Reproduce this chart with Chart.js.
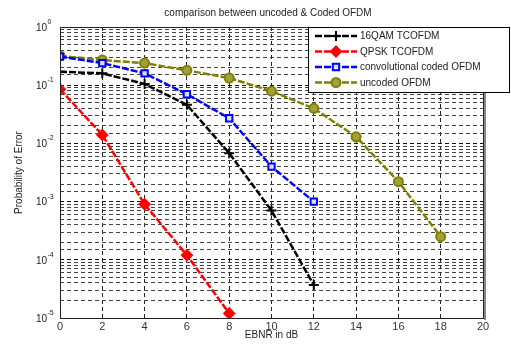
<!DOCTYPE html>
<html>
<head>
<meta charset="utf-8">
<script src="https://cdn.jsdelivr.net/npm/chart.js@4"></script>
<style>
html, body { margin: 0; padding: 0; background: #fff; }
</style>
</head>
<body>
<canvas id="chart" width="511" height="345"></canvas>
<script>
// values
const qamEbnr = [0, 2, 4, 6, 8, 10, 12];
const qamBer = [0.17, 0.16, 0.105, 0.046, 0.0068, 0.0007, 0.000037];
const qpskEbnr = [0, 2, 4, 6, 8];
const qpskBer = [0.085, 0.014, 0.0009, 0.00012, 0.000012];
const convEbnr = [0, 2, 4, 6, 8, 10, 12];
const convBer = [0.31, 0.24, 0.16, 0.07, 0.027, 0.004, 0.001];
const uncEbnr = [0, 2, 4, 6, 8, 10, 12, 14, 16, 18];
const uncBer = [0.32, 0.27, 0.24, 0.18, 0.133, 0.079, 0.04, 0.013, 0.0022, 0.00025];
const labels = ['16QAM TCOFDM', 'QPSK TCOFDM', 'convolutional coded OFDM', 'uncoded OFDM'];
const yExponents = [0, -1, -2, -3, -4, -5];

const FONT = '"Liberation Sans", Arial, sans-serif';

function pts(xs, ys) {
    return xs.map((x, i) => ({ x: x, y: ys[i] }));
}

function series(label, data, color, style, fill, radius) {
    return {
        label: label,
        data: data,
        borderColor: color,
        backgroundColor: color,
        borderWidth: 2.5,
        borderDash: [7, 2],
        pointStyle: style,
        pointRadius: radius,
        pointBorderWidth: 2,
        pointBorderColor: color,
        pointBackgroundColor: fill,
        tension: 0
    };
}

const extras = {
    id: 'extras',
    afterDatasetsDraw(chart) {
        const ctx = chart.ctx, a = chart.chartArea;
        ctx.save();
        ctx.strokeStyle = '#222';
        ctx.lineWidth = 1;
        ctx.setLineDash([]);
        ctx.strokeRect(a.left + 0.5, a.top + 0.5, a.right - a.left, a.bottom - a.top);
        ctx.strokeStyle = '#888';
        ctx.lineWidth = 2;
        ctx.beginPath();
        ctx.moveTo(a.right + 2, a.top + 2);
        ctx.lineTo(a.right + 2, a.bottom + 2);
        ctx.stroke();
        ctx.restore();
    },
    afterDraw(chart) {
        const ctx = chart.ctx, a = chart.chartArea;
        const y = chart.scales.y;
        ctx.save();
        ctx.fillStyle = '#222';
        // title
        ctx.font = '10px ' + FONT;
        ctx.textAlign = 'center';
        ctx.textBaseline = 'middle';
        ctx.fillText('comparison between uncoded & Coded OFDM', 268, 13);
        // y label
        ctx.save();
        ctx.translate(19, (a.top + a.bottom) / 2);
        ctx.rotate(-Math.PI / 2);
        ctx.fillText('Probability of Error', 0, 0);
        ctx.restore();
        // y tick labels with superscript
        yExponents.forEach(e => {
            const py = y.getPixelForValue(Math.pow(10, e));
            ctx.font = '10px ' + FONT;
            ctx.textAlign = 'right';
            ctx.fillText('10', 47, py + 1);
            ctx.font = '7px ' + FONT;
            ctx.textAlign = 'left';
            ctx.fillText(String(e), 47.5, py - 5);
        });
        // legend
        const lx = 308, ly = 27, lw = 202, lh = 66;
        ctx.fillStyle = '#fff';
        ctx.fillRect(lx, ly, lw, lh);
        ctx.strokeStyle = '#000';
        ctx.lineWidth = 1;
        ctx.strokeRect(lx + 0.5, ly + 0.5, lw - 1, lh - 1);
        chart.data.datasets.forEach((ds, i) => {
            const cy = 36 + i * 15.5;
            ctx.strokeStyle = ds.borderColor;
            ctx.lineWidth = 2.5;
            ctx.setLineDash([7, 2]);
            ctx.beginPath();
            ctx.moveTo(315, cy);
            ctx.lineTo(357, cy);
            ctx.stroke();
            ctx.setLineDash([]);
            ctx.lineWidth = 2;
            ctx.fillStyle = ds.pointBackgroundColor;
            Chart.helpers.drawPoint(ctx, { pointStyle: ds.pointStyle, radius: ds.pointRadius, borderWidth: 2, rotation: 0 }, 336, cy);
            ctx.fillStyle = '#222';
            ctx.font = '10px ' + FONT;
            ctx.textAlign = 'left';
            ctx.textBaseline = 'middle';
            ctx.fillText(ds.label, 360, cy + 0.5);
        });
        ctx.restore();
    }
};

new Chart(document.getElementById('chart'), {
    type: 'line',
    data: {
        datasets: [
            series(labels[0], pts(qamEbnr, qamBer), '#000000', 'cross', '#000000', 5),
            series(labels[1], pts(qpskEbnr, qpskBer), '#ff0000', 'rectRot', '#ff0000', 5),
            series(labels[2], pts(convEbnr, convBer), '#0000ff', 'rect', '#dde0ff', 4.5),
            series(labels[3], pts(uncEbnr, uncBer), '#808000', 'circle', '#a0a040', 4.5)
        ]
    },
    options: {
        responsive: false,
        animation: false,
        devicePixelRatio: 1,
        layout: { padding: { top: 27, right: 28, left: 0, bottom: 0 } },
        plugins: { legend: { display: false }, title: { display: false }, tooltip: { enabled: false } },
        scales: {
            x: {
                type: 'linear',
                min: 0,
                max: 20,
                afterFit(s) { s.height = 27; },
                ticks: { stepSize: 2, padding: 2, color: '#333', font: { family: FONT, size: 11 } },
                grid: { color: '#222', lineWidth: 1, drawTicks: false },
                border: { display: false, dash: [4, 3] },
                title: { display: true, text: 'EBNR in dB', color: '#222', font: { family: FONT, size: 10 }, padding: { top: 0, bottom: 4 } }
            },
            y: {
                type: 'logarithmic',
                min: 0.00001,
                max: 1,
                afterFit(s) { s.width = 60; },
                ticks: { autoSkip: false, callback: () => '', padding: 0 },
                grid: {
                    color: c => {
                        const v = c.tick ? c.tick.value : 1;
                        const m = v / Math.pow(10, Math.floor(Math.log10(v) + 1e-9));
                        return Math.abs(m - 1) < 1e-6 ? '#111' : '#444';
                    },
                    lineWidth: 1,
                    drawTicks: false
                },
                border: { display: false, dash: [4, 3] }
            }
        }
    },
    plugins: [extras]
});
</script>
</body>
</html>
